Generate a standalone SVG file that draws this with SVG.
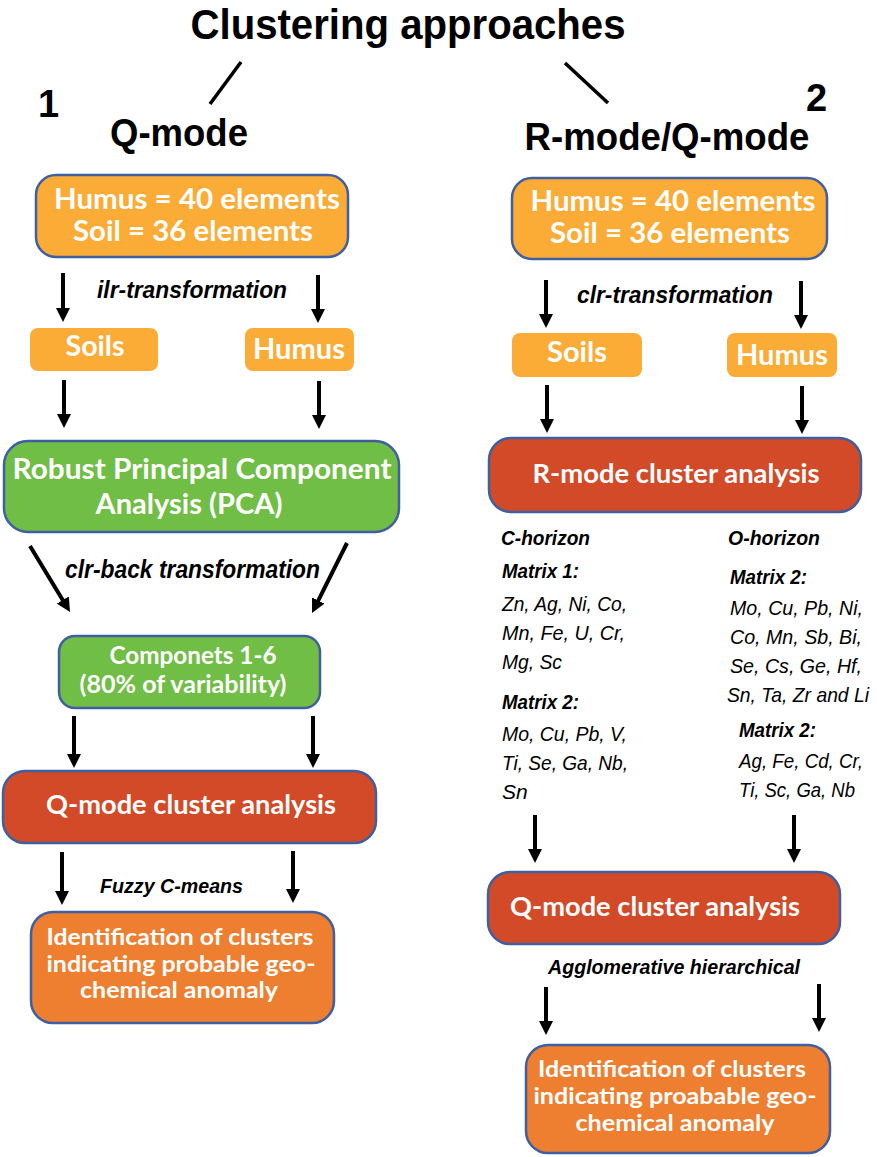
<svg xmlns="http://www.w3.org/2000/svg" width="877" height="1157" viewBox="0 0 877 1157">
<defs>
<marker id="ah" markerUnits="userSpaceOnUse" markerWidth="14" markerHeight="14" viewBox="0 0 14 14" refX="6" refY="7" orient="auto">
<path d="M0,0 L14,7 L0,14 z" fill="#000"/>
</marker>
<style>
.hd{font-family:"Liberation Sans",Arial,sans-serif;font-weight:bold;fill:#000}
.bx{font-family:Lato,"Open Sans",sans-serif;font-weight:bold;fill:#fff;text-anchor:middle}
.lb{font-family:"Liberation Sans",Arial,sans-serif;font-weight:bold;font-style:italic;fill:#000}
.el{font-family:"Liberation Sans",Arial,sans-serif;font-style:italic;fill:#000;font-size:21px}
.lo{fill:#FBAC36}
.lob{fill:#FBAC36;stroke:#3F5FA0;stroke-width:2.5}
.gr{fill:#70BE45;stroke:#3F5FA0;stroke-width:2.5}
.rd{fill:#D24A27;stroke:#3F5FA0;stroke-width:2.5}
.do{fill:#EE7F30;stroke:#3F5FA0;stroke-width:2.5}
.ar{stroke:#000;stroke-width:4;fill:none;marker-end:url(#ah)}
.sl{stroke:#000;stroke-width:3.5;fill:none}
</style>
</defs>
<rect width="877" height="1157" fill="#fff"/>

<g id="title">
<text class="hd" x="408" y="39" font-size="42" text-anchor="middle" textLength="435" lengthAdjust="spacingAndGlyphs">Clustering approaches</text>
</g>

<g id="connectors">
<line class="sl" x1="241" y1="62" x2="210" y2="104"/>
<line class="sl" x1="565" y1="63" x2="608" y2="103"/>
<line class="ar" x1="63" y1="273" x2="63" y2="314"/>
<line class="ar" x1="318" y1="275" x2="318" y2="315"/>
<line class="ar" x1="64" y1="380" x2="64" y2="420"/>
<line class="ar" x1="319" y1="381" x2="319" y2="421"/>
<line class="ar" x1="30" y1="546" x2="65.9" y2="605.2"/>
<line class="ar" x1="347" y1="543" x2="315.6" y2="605.8"/>
<line class="ar" x1="74" y1="716" x2="74" y2="760"/>
<line class="ar" x1="313" y1="716" x2="313" y2="760"/>
<line class="ar" x1="62" y1="852" x2="62" y2="897"/>
<line class="ar" x1="293" y1="851" x2="293" y2="895"/>
<line class="ar" x1="546" y1="280" x2="546" y2="320"/>
<line class="ar" x1="801" y1="281" x2="801" y2="321"/>
<line class="ar" x1="547" y1="385" x2="547" y2="425"/>
<line class="ar" x1="802" y1="386" x2="802" y2="426"/>
<line class="ar" x1="535" y1="815" x2="535" y2="855"/>
<line class="ar" x1="794" y1="815" x2="794" y2="855"/>
<line class="ar" x1="546" y1="987" x2="546" y2="1027"/>
<line class="ar" x1="819" y1="984" x2="819" y2="1024"/>
</g>

<g id="labels">
<text class="hd" x="38" y="117" font-size="38">1</text>
<text class="hd" x="806" y="111" font-size="38">2</text>
<text class="hd" x="179" y="146" font-size="38" text-anchor="middle" textLength="138" lengthAdjust="spacingAndGlyphs">Q-mode</text>
<text class="hd" x="667" y="150" font-size="38" text-anchor="middle" textLength="285" lengthAdjust="spacingAndGlyphs">R-mode/Q-mode</text>
<text class="lb" x="97" y="298" font-size="24" textLength="190" lengthAdjust="spacingAndGlyphs">ilr-transformation</text>
<text class="lb" x="577" y="303" font-size="24" textLength="196" lengthAdjust="spacingAndGlyphs">clr-transformation</text>
<text class="lb" x="65" y="578" font-size="25" textLength="255" lengthAdjust="spacingAndGlyphs">clr-back transformation</text>
<text class="lb" x="100" y="893" font-size="20" textLength="143" lengthAdjust="spacingAndGlyphs">Fuzzy C-means</text>
<text class="lb" x="548" y="974" font-size="21" textLength="252" lengthAdjust="spacingAndGlyphs">Agglomerative hierarchical</text>
</g>

<g id="lists">
<text class="lb" x="501" y="545" font-size="21" textLength="89" lengthAdjust="spacingAndGlyphs">C-horizon</text>
<text class="lb" x="502" y="578" font-size="21" textLength="77" lengthAdjust="spacingAndGlyphs">Matrix 1:</text>
<text class="el" x="502" y="611" textLength="125" lengthAdjust="spacingAndGlyphs">Zn, Ag, Ni, Co,</text>
<text class="el" x="502" y="640" textLength="123" lengthAdjust="spacingAndGlyphs">Mn, Fe, U, Cr,</text>
<text class="el" x="502" y="669" textLength="60" lengthAdjust="spacingAndGlyphs">Mg, Sc</text>
<text class="lb" x="502" y="709" font-size="21" textLength="77" lengthAdjust="spacingAndGlyphs">Matrix 2:</text>
<text class="el" x="502" y="741" textLength="125" lengthAdjust="spacingAndGlyphs">Mo, Cu, Pb, V,</text>
<text class="el" x="502" y="770" textLength="126" lengthAdjust="spacingAndGlyphs">Ti, Se, Ga, Nb,</text>
<text class="el" x="502" y="799">Sn</text>
<text class="lb" x="728" y="545" font-size="21" textLength="92" lengthAdjust="spacingAndGlyphs">O-horizon</text>
<text class="lb" x="730" y="584" font-size="21" textLength="77" lengthAdjust="spacingAndGlyphs">Matrix 2:</text>
<text class="el" x="730" y="615" textLength="133" lengthAdjust="spacingAndGlyphs">Mo, Cu, Pb, Ni,</text>
<text class="el" x="730" y="644" textLength="132" lengthAdjust="spacingAndGlyphs">Co, Mn, Sb, Bi,</text>
<text class="el" x="730" y="673" textLength="132" lengthAdjust="spacingAndGlyphs">Se, Cs, Ge, Hf,</text>
<text class="el" x="727" y="702" textLength="142" lengthAdjust="spacingAndGlyphs">Sn, Ta, Zr and Li</text>
<text class="lb" x="739" y="737" font-size="21" textLength="77" lengthAdjust="spacingAndGlyphs">Matrix 2:</text>
<text class="el" x="739" y="768" textLength="124" lengthAdjust="spacingAndGlyphs">Ag, Fe, Cd, Cr,</text>
<text class="el" x="739" y="797" textLength="116" lengthAdjust="spacingAndGlyphs">Ti, Sc, Ga, Nb</text>
</g>

<g id="L-elements">
<rect class="lob" x="36" y="175" width="312" height="82" rx="20"/>
<text class="bx" x="197" y="209" font-size="28" textLength="286" lengthAdjust="spacingAndGlyphs">Humus = 40 elements</text>
<text class="bx" x="193" y="241" font-size="28" textLength="240" lengthAdjust="spacingAndGlyphs">Soil = 36 elements</text>
</g>
<g id="L-soils">
<rect class="lo" x="30" y="328" width="128" height="43" rx="8"/>
<text class="bx" x="95" y="356" font-size="28" textLength="59" lengthAdjust="spacingAndGlyphs">Soils</text>
</g>
<g id="L-humus">
<rect class="lo" x="245" y="328" width="109" height="43" rx="8"/>
<text class="bx" x="299" y="359" font-size="28" textLength="92" lengthAdjust="spacingAndGlyphs">Humus</text>
</g>
<g id="L-pca">
<rect class="gr" x="4" y="441" width="395" height="91" rx="24"/>
<text class="bx" x="202" y="479" font-size="28" textLength="379" lengthAdjust="spacingAndGlyphs">Robust Principal Component</text>
<text class="bx" x="189" y="514" font-size="28" textLength="187" lengthAdjust="spacingAndGlyphs">Analysis (PCA)</text>
</g>
<g id="L-components">
<rect class="gr" x="59" y="636" width="261" height="72" rx="16"/>
<text class="bx" x="193" y="664" font-size="24" textLength="167" lengthAdjust="spacingAndGlyphs">Componets 1-6</text>
<text class="bx" x="183" y="693" font-size="24" textLength="207" lengthAdjust="spacingAndGlyphs">(80% of variability)</text>
</g>
<g id="L-qmode">
<rect class="rd" x="3" y="771" width="373" height="72" rx="22"/>
<text class="bx" x="191" y="814" font-size="26" textLength="290" lengthAdjust="spacingAndGlyphs">Q-mode cluster analysis</text>
</g>
<g id="L-ident">
<rect class="do" x="31" y="912" width="303" height="111" rx="22"/>
<text class="bx" x="180" y="945" font-size="22" textLength="267" lengthAdjust="spacingAndGlyphs">Identification of clusters</text>
<text class="bx" x="181" y="972" font-size="22" textLength="269" lengthAdjust="spacingAndGlyphs">indicating probable geo-</text>
<text class="bx" x="179" y="998" font-size="22" textLength="198" lengthAdjust="spacingAndGlyphs">chemical anomaly</text>
</g>

<g id="R-elements">
<rect class="lob" x="512" y="178" width="315" height="81" rx="20"/>
<text class="bx" x="673" y="211" font-size="28" textLength="285" lengthAdjust="spacingAndGlyphs">Humus = 40 elements</text>
<text class="bx" x="670" y="243" font-size="28" textLength="240" lengthAdjust="spacingAndGlyphs">Soil = 36 elements</text>
</g>
<g id="R-soils">
<rect class="lo" x="512" y="333" width="130" height="44" rx="8"/>
<text class="bx" x="577" y="362" font-size="28" textLength="60" lengthAdjust="spacingAndGlyphs">Soils</text>
</g>
<g id="R-humus">
<rect class="lo" x="727" y="333" width="110" height="44" rx="8"/>
<text class="bx" x="782" y="365" font-size="28" textLength="92" lengthAdjust="spacingAndGlyphs">Humus</text>
</g>
<g id="R-rmode">
<rect class="rd" x="489" y="438" width="372" height="74" rx="22"/>
<text class="bx" x="676" y="483" font-size="26" textLength="287" lengthAdjust="spacingAndGlyphs">R-mode cluster analysis</text>
</g>
<g id="R-qmode">
<rect class="rd" x="488" y="872" width="352" height="72" rx="22"/>
<text class="bx" x="655" y="916" font-size="26" textLength="290" lengthAdjust="spacingAndGlyphs">Q-mode cluster analysis</text>
</g>
<g id="R-ident">
<rect class="do" x="526" y="1045" width="304" height="108" rx="22"/>
<text class="bx" x="672" y="1077" font-size="22" textLength="268" lengthAdjust="spacingAndGlyphs">Identification of clusters</text>
<text class="bx" x="675" y="1104" font-size="22" textLength="283" lengthAdjust="spacingAndGlyphs">indicating proabable geo-</text>
<text class="bx" x="675" y="1131" font-size="22" textLength="199" lengthAdjust="spacingAndGlyphs">chemical anomaly</text>
</g>
</svg>
